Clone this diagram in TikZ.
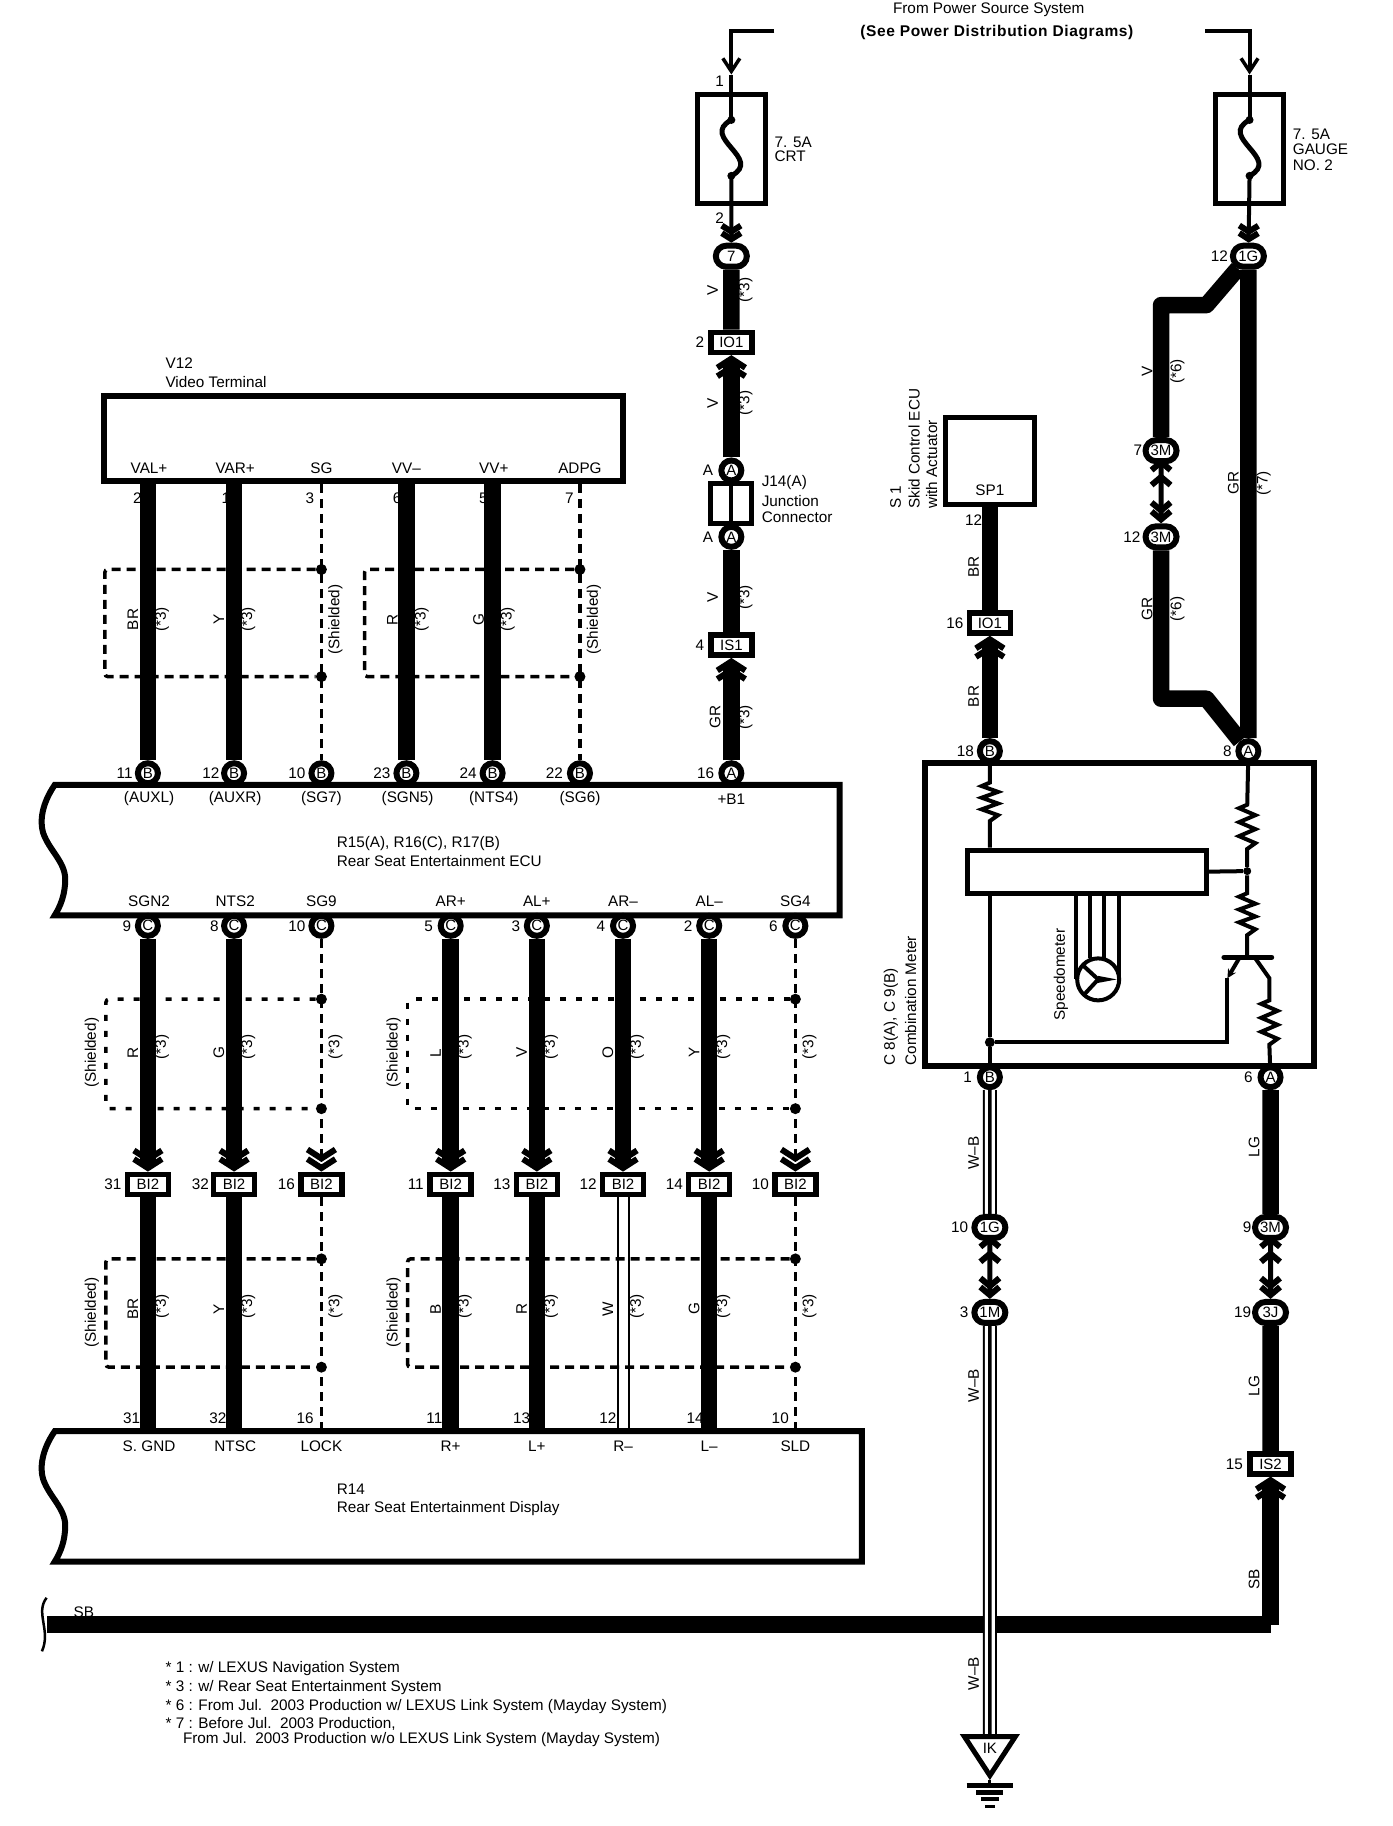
\documentclass[tikz,border=0pt]{standalone}
\usepackage{fontspec}
\setmainfont{Liberation Sans}
\usetikzlibrary{arrows.meta,backgrounds,calc,shapes.geometric,shapes.misc}
\tikzset{
  lab/.style={inner sep=0pt,font=\fontsize{15.3}{15}\selectfont},
  vlab/.style={lab,rotate=90},
  vwest/.style={lab,rotate=90,anchor=west},
  twest/.style={lab,anchor=west},
  boxline/.style={line width=6pt,line join=miter},
  cpin/.style={circle,draw,fill=white,line width=6pt,minimum size=20pt,inner sep=0pt,font=\fontsize{15}{15}\selectfont},
  coval/.style={rounded rectangle,draw,fill=white,line width=6pt,minimum width=31pt,minimum height=21pt,inner sep=0pt,font=\fontsize{15}{15}\selectfont},
  cbox/.style={rectangle,draw,fill=white,line width=5.5pt,minimum width=41pt,minimum height=20pt,inner sep=0pt,font=\fontsize{15}{15}\selectfont},
  unit/.style={rectangle,draw,line width=6pt,inner sep=0pt},
  jdot/.style={circle,fill=black,minimum size=11pt,inner sep=0pt},
  hwire/.style={line width=16.5pt},
  twire/.style={line width=4pt},
  dwire/.style={line width=3.5pt,dash pattern=on 9pt off 6pt},
  shieldA/.style={line width=3.5pt,dash pattern=on 9pt off 6pt,rounded corners=3pt},
  shieldB/.style={line width=3.5pt,dash pattern=on 6pt off 10pt,rounded corners=3pt},
  wwire/.style={double,double distance=9pt,line width=2pt},
  wbwire/.style={line width=14pt,postaction={draw,white,line width=10pt},postaction={draw,black,line width=3.5pt}},
  bigtip/.style={-{Straight Barb[length=9pt,width=28pt,line width=6pt,sep=-7pt]Straight Barb[length=9pt,width=28pt,line width=6pt]}},
  dashtip/.style={-{Straight Barb[length=9pt,width=28pt,line width=6pt,sep=-6pt]Straight Barb[length=9pt,width=28pt,line width=6pt]}},
  thintip/.style={-{Straight Barb[length=13pt,width=17pt,line width=3.5pt]}},
  fusetip/.style={-{Straight Barb[length=6pt,width=19pt,line width=6pt,sep=-5pt]Straight Barb[length=6pt,width=19pt,line width=6pt]}},
  dbltip/.style={{Straight Barb[length=8pt,width=19pt,line width=6pt,sep=-6pt]Straight Barb[length=8pt,width=19pt,line width=6pt]}-{Straight Barb[length=8pt,width=19pt,line width=6pt,sep=-6pt]Straight Barb[length=8pt,width=19pt,line width=6pt]}},
  fuseline/.style={line width=5pt},
  inner/.style={line width=4pt},
  gndtri/.style={isosceles triangle,isosceles triangle apex angle=64,isosceles triangle stretches,shape border rotate=270,draw,fill=white,line width=5pt,inner sep=0pt,minimum height=39pt,minimum width=51pt,anchor=lower side,font=\fontsize{15}{15}\selectfont}
}
\begin{document}
\begin{tikzpicture}[x=1.1645pt,y=-1.1645pt]
    \useasboundingbox (0,0) rectangle (1195.4,1568);

    % --------------------------------------------------------- %
    % ------------- power source
    % --------------------------------------------------------- %
    \node[lab] (srcA) at (849,8) {From Power Source System};
    \node[lab,font=\fontsize{15.5}{15}\selectfont\bfseries\addfontfeatures{LetterSpace=4}] (srcB) at (856,28) {(See Power Distribution Diagrams)};
    \coordinate (feedL) at (665,27);
    \coordinate (feedR) at (1035,27);
    \coordinate (feedLt) at (628,64);
    \coordinate (feedRt) at (1073,64);
    % --- fuses
    \node[unit,line width=5pt,minimum width=67.5pt,minimum height=109.5pt] (fuseL) at (628,128) {};
    \node[unit,line width=5pt,minimum width=67.5pt,minimum height=109.5pt] (fuseR) at (1073,128) {};
    \coordinate (fuseLt) at (628,103);
    \coordinate (fuseLb) at (628,151);
    \coordinate (fuseRt) at (1073,103);
    \coordinate (fuseRb) at (1073,151);
    \node[lab] (nL1) at (618,70) {1};
    \node[lab] (nL2) at (618,187) {2};
    \node[twest] (fuseLa) at (665,122) {7. 5A};
    \node[twest] (fuseLb2) at (665,134) {CRT};
    \node[twest] (fuseRa) at (1110,115) {7. 5A};
    \node[twest] (fuseRb2) at (1110,128) {GAUGE};
    \node[twest] (fuseRc) at (1110,142) {NO. 2};

    % --------------------------------------------------------- %
    % ------------- video terminal
    % --------------------------------------------------------- %
    \node[twest] (v12a) at (142,312) {V12};
    \node[twest] (v12b) at (142,328) {Video Terminal};
    \node[unit,minimum width=519pt,minimum height=85pt] (v12) at (312,376.5) {};
    \node[lab] (tvala) at (128,402) {VAL+};
    \node[lab] (tvara) at (202,402) {VAR+};
    \node[lab] (tsg) at (276,402) {SG};
    \node[lab] (tvvm) at (349,402) {VV–};
    \node[lab] (tvvp) at (424,402) {VV+};
    \node[lab] (tadpg) at (498,402) {ADPG};
    \node[lab] (p2) at (118,428) {2};
    \node[lab] (p1) at (194,428) {1};
    \node[lab] (p3) at (266,428) {3};
    \node[lab] (p6) at (341,428) {6};
    \node[lab] (p5) at (415,428) {5};
    \node[lab] (p7) at (489,428) {7};
    % --- shields
    \node[jdot] (sa1) at (276,489) {};
    \node[jdot] (sa2) at (276,581) {};
    \node[jdot] (sb1) at (498,489) {};
    \node[jdot] (sb2) at (498,581) {};
    \coordinate (saL) at (90,535);
    \coordinate (sbL) at (313,535);
    \node[vlab] (lbr) at (114,532) {BR};
    \node[vlab] (s1) at (139,532) {(*3)};
    \node[vlab] (ly) at (188,532) {Y};
    \node[vlab] (s2) at (213,532) {(*3)};
    \node[vlab] (ss1) at (288,532) {(Shielded)};
    \node[vlab] (lr) at (337,532) {R};
    \node[vlab] (s3) at (362,532) {(*3)};
    \node[vlab] (lg) at (411,532) {G};
    \node[vlab] (s4) at (436,532) {(*3)};
    \node[vlab] (ss2) at (510,532) {(Shielded)};

    % --------------------------------------------------------- %
    % ------------- rear seat entertainment ECU
    % --------------------------------------------------------- %
    \coordinate (ecuTL) at (47,674);
    \coordinate (ecuTR) at (721,674);
    \coordinate (ecuBR) at (721,786);
    \coordinate (ecuBL) at (47,786);
    \draw[boxline] (ecuTR) -- (ecuBR) -- (ecuBL) .. controls (52,778) and (56,768) .. (56,755) .. controls (56,740) and (42,730) .. (37,715) .. controls (34,705) and (36,690) .. (ecuTL) -- cycle;
    \node[cpin] (b1) at (127,664) {B};
    \node[cpin] (b2) at (201,664) {B};
    \node[cpin] (b3) at (276,664) {B};
    \node[cpin] (b4) at (349,664) {B};
    \node[cpin] (b5) at (423,664) {B};
    \node[cpin] (b6) at (498,664) {B};
    \node[cpin] (a16) at (628,664) {A};
    \node[lab] (n11) at (107,664) {11};
    \node[lab] (n12) at (181,664) {12};
    \node[lab] (n10) at (255,664) {10};
    \node[lab] (n23) at (328,664) {23};
    \node[lab] (n24) at (402,664) {24};
    \node[lab] (n22) at (476,664) {22};
    \node[lab] (n16) at (606,664) {16};
    \node[lab] (tauxl) at (128,686) {(AUXL)};
    \node[lab] (tauxr) at (202,686) {(AUXR)};
    \node[lab] (tsg7) at (276,686) {(SG7)};
    \node[lab] (tsgn5) at (350,686) {(SGN5)};
    \node[lab] (tnts4) at (424,686) {(NTS4)};
    \node[lab] (tsg6) at (498,686) {(SG6)};
    \node[lab] (tb1) at (628,686) {+B1};
    \node[twest] (ecuA) at (289,724) {R15(A), R16(C), R17(B)};
    \node[twest] (ecuB) at (289,739) {Rear Seat Entertainment ECU};
    \node[lab] (tsgn2) at (128,774) {SGN2};
    \node[lab] (tnts2) at (202,774) {NTS2};
    \node[lab] (tsg9) at (276,774) {SG9};
    \node[lab] (tarp) at (387,774) {AR+};
    \node[lab] (talp) at (461,774) {AL+};
    \node[lab] (tarm) at (535,774) {AR–};
    \node[lab] (talm) at (609,774) {AL–};
    \node[lab] (tsg4) at (683,774) {SG4};
    \node[cpin] (c1) at (127,795) {C};
    \node[cpin] (c2) at (201,795) {C};
    \node[cpin] (c3) at (276,795) {C};
    \node[cpin] (c4) at (387,795) {C};
    \node[cpin] (c5) at (461,795) {C};
    \node[cpin] (c6) at (535,795) {C};
    \node[cpin] (c7) at (609,795) {C};
    \node[cpin] (c8) at (683,795) {C};
    \node[lab] (m9) at (109,795) {9};
    \node[lab] (m8) at (184,795) {8};
    \node[lab] (m10) at (255,795) {10};
    \node[lab] (m5) at (368,795) {5};
    \node[lab] (m3) at (443,795) {3};
    \node[lab] (m4) at (516,795) {4};
    \node[lab] (m2) at (591,795) {2};
    \node[lab] (m6) at (664,795) {6};

    % --------------------------------------------------------- %
    % ------------- upper shielded run
    % --------------------------------------------------------- %
    \node[jdot] (sc1) at (276,858) {};
    \node[jdot] (sc2) at (276,952) {};
    \node[jdot] (sd1) at (683,858) {};
    \node[jdot] (sd2) at (683,952) {};
    \coordinate (scL) at (91,905);
    \coordinate (sdL) at (350,905);
    \node[vlab] (ss3) at (79,904) {(Shielded)};
    \node[vlab] (ss4) at (338,904) {(Shielded)};
    \node[vlab] (ur) at (114,904) {R};
    \node[vlab] (u1) at (139,899) {(*3)};
    \node[vlab] (ug) at (188,904) {G};
    \node[vlab] (u2) at (213,899) {(*3)};
    \node[vlab] (u3) at (288,899) {(*3)};
    \node[vlab] (ul) at (374,904) {L};
    \node[vlab] (u4) at (399,899) {(*3)};
    \node[vlab] (uv) at (448,904) {V};
    \node[vlab] (u5) at (473,899) {(*3)};
    \node[vlab] (uo) at (522,904) {O};
    \node[vlab] (u6) at (547,899) {(*3)};
    \node[vlab] (uy) at (596,904) {Y};
    \node[vlab] (u7) at (621,899) {(*3)};
    \node[vlab] (u8) at (695,899) {(*3)};

    % --------------------------------------------------------- %
    % ------------- BI2 connectors
    % --------------------------------------------------------- %
    \node[cbox] (bi1) at (127,1017) {BI2};
    \node[cbox] (bi2) at (201,1017) {BI2};
    \node[cbox] (bi3) at (276,1017) {BI2};
    \node[cbox] (bi4) at (387,1017) {BI2};
    \node[cbox] (bi5) at (461,1017) {BI2};
    \node[cbox] (bi6) at (535,1017) {BI2};
    \node[cbox] (bi7) at (609,1017) {BI2};
    \node[cbox] (bi8) at (683,1017) {BI2};
    \node[lab] (k31) at (97,1017) {31};
    \node[lab] (k32) at (172,1017) {32};
    \node[lab] (k16) at (246,1017) {16};
    \node[lab] (k11) at (357,1017) {11};
    \node[lab] (k13) at (431,1017) {13};
    \node[lab] (k12) at (505,1017) {12};
    \node[lab] (k14) at (579,1017) {14};
    \node[lab] (k10) at (653,1017) {10};

    % --------------------------------------------------------- %
    % ------------- lower shielded run
    % --------------------------------------------------------- %
    \node[jdot] (se1) at (276,1081) {};
    \node[jdot] (se2) at (276,1174) {};
    \node[jdot] (sf1) at (683,1081) {};
    \node[jdot] (sf2) at (683,1174) {};
    \coordinate (seL) at (91,1127);
    \coordinate (sfL) at (350,1127);
    \node[vlab] (ss5) at (79,1127) {(Shielded)};
    \node[vlab] (ss6) at (338,1127) {(Shielded)};
    \node[vlab] (dbr) at (114,1124) {BR};
    \node[vlab] (d1) at (139,1122) {(*3)};
    \node[vlab] (dy) at (188,1124) {Y};
    \node[vlab] (d2) at (213,1122) {(*3)};
    \node[vlab] (d3) at (288,1122) {(*3)};
    \node[vlab] (db) at (374,1124) {B};
    \node[vlab] (d4) at (399,1122) {(*3)};
    \node[vlab] (dr) at (448,1124) {R};
    \node[vlab] (d5) at (473,1122) {(*3)};
    \node[vlab] (dw) at (522,1124) {W};
    \node[vlab] (d6) at (547,1122) {(*3)};
    \node[vlab] (dg) at (596,1124) {G};
    \node[vlab] (d7) at (621,1122) {(*3)};
    \node[vlab] (d8) at (695,1122) {(*3)};

    % --------------------------------------------------------- %
    % ------------- rear seat entertainment display
    % --------------------------------------------------------- %
    \coordinate (dspTL) at (47,1229);
    \coordinate (dspTR) at (740,1229);
    \coordinate (dspBR) at (740,1341);
    \coordinate (dspBL) at (47,1341);
    \draw[boxline] (dspTR) -- (dspBR) -- (dspBL) .. controls (52,1333) and (56,1323) .. (56,1310) .. controls (56,1295) and (42,1285) .. (37,1270) .. controls (34,1260) and (36,1245) .. (dspTL) -- cycle;
    \node[lab] (q31) at (113,1218) {31};
    \node[lab] (q32) at (187,1218) {32};
    \node[lab] (q16) at (262,1218) {16};
    \node[lab] (q11) at (373,1218) {11};
    \node[lab] (q13) at (448,1218) {13};
    \node[lab] (q12) at (522,1218) {12};
    \node[lab] (q14) at (597,1218) {14};
    \node[lab] (q10) at (670,1218) {10};
    \node[lab] (tsgnd) at (128,1242) {S. GND};
    \node[lab] (tntsc) at (202,1242) {NTSC};
    \node[lab] (tlock) at (276,1242) {LOCK};
    \node[lab] (trp) at (387,1242) {R+};
    \node[lab] (tlp) at (461,1242) {L+};
    \node[lab] (trm) at (535,1242) {R–};
    \node[lab] (tlm) at (609,1242) {L–};
    \node[lab] (tsld) at (683,1242) {SLD};
    \node[twest] (dspA) at (289,1279) {R14};
    \node[twest] (dspB) at (289,1295) {Rear Seat Entertainment Display};

    % --------------------------------------------------------- %
    % ------------- +B1 feed column
    % --------------------------------------------------------- %
    \node[coval] (j7) at (628,220) {7};
    \node[vlab] (cv1) at (612,249) {V};
    \node[vlab] (cs1) at (640,249) {(*3)};
    \node[cbox] (io1a) at (628,294) {IO1};
    \node[lab] (io1an) at (601,294) {2};
    \node[vlab] (cv2) at (612,346) {V};
    \node[vlab] (cs2) at (640,346) {(*3)};
    \node[cpin] (ja) at (628,404) {A};
    \node[lab] (jan) at (608,404) {A};
    \node[rectangle,draw,line width=5pt,minimum width=41pt,minimum height=40pt,inner sep=0pt] (j14) at (628,432.5) {};
    \node[cpin] (jb) at (628,461) {A};
    \node[lab] (jbn) at (608,461) {A};
    \node[twest] (j14a) at (654,414) {J14(A)};
    \node[twest] (j14b) at (654,430) {Junction};
    \node[twest] (j14c) at (654,444) {Connector};
    \node[vlab] (cv3) at (612,513) {V};
    \node[vlab] (cs3) at (640,513) {(*3)};
    \node[cbox] (is1) at (628,554) {IS1};
    \node[lab] (is1n) at (601,554) {4};
    \node[vlab] (cgr) at (614,616) {GR};
    \node[vlab] (cs4) at (640,616) {(*3)};

    % --------------------------------------------------------- %
    % ------------- skid control ECU
    % --------------------------------------------------------- %
    \node[unit,line width=5pt,minimum width=88.5pt,minimum height=87pt] (s1box) at (850,395.5) {};
    \node[lab] (sp1) at (850,421) {SP1};
    \node[vwest] (s1a) at (769,437) {S 1};
    \node[vwest] (s1b) at (785,437) {Skid Control ECU};
    \node[vwest] (s1c) at (800,437) {with Actuator};
    \node[lab] (s12) at (836,447) {12};
    \node[vlab] (sbr1) at (836,487) {BR};
    \node[cbox] (io1b) at (850,535) {IO1};
    \node[lab] (io1bn) at (820,535) {16};
    \node[vlab] (sbr2) at (836,598) {BR};

    % --------------------------------------------------------- %
    % ------------- gauge feed
    % --------------------------------------------------------- %
    \node[coval] (g1) at (1072,220) {1G};
    \node[lab] (g1n) at (1047,220) {12};
    \coordinate (brA) at (1036,262);
    \coordinate (brB) at (997,262);
    \coordinate (brC) at (997,600);
    \coordinate (brD) at (1036,600);
    \node[coval] (m3a) at (997,387) {3M};
    \node[lab] (m3an) at (977,387) {7};
    \node[coval] (m3b) at (997,461) {3M};
    \node[lab] (m3bn) at (972,461) {12};
    \node[vlab] (gv) at (985,319) {V};
    \node[vlab] (gs1) at (1011,319) {(*6)};
    \node[vlab] (ggr1) at (985,523) {GR};
    \node[vlab] (gs2) at (1011,523) {(*6)};
    \node[vlab] (ggr2) at (1059,415) {GR};
    \node[vlab] (gs3) at (1085,415) {(*7)};

    % --------------------------------------------------------- %
    % ------------- combination meter
    % --------------------------------------------------------- %
    \node[unit,minimum width=389pt,minimum height=303pt] (meter) at (961,785) {};
    \node[vwest] (mtA) at (765,915) {C 8(A), C 9(B)};
    \node[vwest] (mtB) at (782,915) {Combination Meter};
    \node[cpin] (mB) at (850,645) {B};
    \node[lab] (mBn) at (829,645) {18};
    \node[cpin] (mA) at (1072,645) {A};
    \node[lab] (mAn) at (1054,645) {8};
    \node[cpin] (mB1) at (850,925) {B};
    \node[lab] (mB1n) at (831,925) {1};
    \node[cpin] (mA6) at (1091,925) {A};
    \node[lab] (mA6n) at (1072,925) {6};
    \node[unit,line width=5pt,minimum width=238.5pt,minimum height=43pt] (ind) at (933.5,748.5) {};
    \node[circle,draw,line width=4pt,minimum size=42pt,inner sep=0pt] (spm) at (943,841) {};
    \node[vlab] (spmt) at (911,837) {Speedometer};
    \node[jdot,minimum size=10pt] (jL) at (850,895) {};
    \node[jdot,minimum size=8pt] (jR) at (1071,748) {};
    \coordinate (ra1) at (850,672);
    \coordinate (ra2) at (850,705);
    \coordinate (rb1) at (1071,691);
    \coordinate (rb2) at (1071,729);
    \coordinate (rc1) at (1071,767);
    \coordinate (rc2) at (1071,803);
    \coordinate (rd1) at (1090,859);
    \coordinate (rd2) at (1090,897);
    \coordinate (qbl) at (1051,822);
    \coordinate (qbr) at (1092,822);
    \coordinate (qe) at (1054,840);
    \coordinate (qc) at (1090,840);
    \coordinate (qb) at (1071,822);
    \draw[inner] (mB) -- (ra1) -- ++(-7,3) -- ++(14,5) -- ++(-14,5) -- ++(14,5) -- ++(-14,5) -- ++(14,5) -- (ra2) -- (ra2 |- ind.north);
    \draw[inner] (ra2 |- ind.south) -- (jL) -- (mB1);
    \draw[inner] (mA) -- (rb1) -- ++(-7,3) -- ++(14,6) -- ++(-14,6) -- ++(14,6) -- ++(-14,6) -- ++(14,6) -- (rb2) -- (jR) -- (rc1) -- ++(-7,3) -- ++(14,6) -- ++(-14,5) -- ++(14,6) -- ++(-14,5) -- ++(14,6) -- (rc2) -- (qb);
    \draw[inner] (ind.east) -- (jR);
    \draw[line width=5pt,line cap=round] (qbl) -- (qbr);
    \draw[inner,-{Stealth[length=9pt,width=9pt]}] (1064,823) -- (qe);
    \draw[inner] (qe) -- (qe |- jL) -- (jL);
    \draw[inner] (1078,823) -- (qc) -- (rd1) -- ++(-7,3) -- ++(14,6) -- ++(-14,6) -- ++(14,6) -- ++(-14,6) -- ++(14,6) -- (rd2) -- (mA6);
    \draw[inner] (924,767) -- (924,841);
    \draw[inner] (961,767) -- (961,841);
    \draw[inner] (936,767) -- (936,823);
    \draw[inner] (948,767) -- (948,823);
    \draw[inner] (spm.center) -- ++(-13,-12);
    \draw[inner] (spm.center) -- ++(-12,13);
    \fill (943,838) -- (959,841) -- (943,844) -- cycle;

    % --------------------------------------------------------- %
    % ------------- ground side
    % --------------------------------------------------------- %
    \node[coval] (g1b) at (850,1054) {1G};
    \node[lab] (g1bn) at (824,1054) {10};
    \node[coval] (m1) at (850,1127) {1M};
    \node[lab] (m1n) at (828,1127) {3};
    \node[vlab] (wb1) at (836,990) {W–B};
    \node[vlab] (wb2) at (836,1190) {W–B};
    \node[vlab] (wb3) at (836,1437) {W–B};
    \node[coval] (m3c) at (1091,1054) {3M};
    \node[lab] (m3cn) at (1071,1054) {9};
    \node[coval] (j3) at (1091,1127) {3J};
    \node[lab] (j3n) at (1067,1127) {19};
    \node[vlab] (lg1) at (1077,985) {LG};
    \node[vlab] (lg2) at (1077,1190) {LG};
    \node[cbox] (is2) at (1091,1257) {IS2};
    \node[lab] (is2n) at (1060,1257) {15};
    \node[vlab] (sb1l) at (1077,1356) {SB};
    \node[lab] (sb2l) at (72,1384) {SB};
    \coordinate (sbC) at (1091,1395);
    \coordinate (sbE) at (40,1395);
    \node[gndtri] (ik) at (850,1489) {IK};
    \coordinate (gnd) at (850,1533);
    \draw[line width=3pt] (ik.apex) -- (gnd);
    \draw[line width=4.5pt] (830,1533) -- (870,1533);
    \draw[line width=4.5pt] (838.5,1539) -- (861.5,1539);
    \draw[line width=4.5pt] (842.5,1545) -- (857.5,1545);
    \draw[line width=3pt] (846,1551) -- (854,1551);
    \draw[line width=2.5pt] (40,1372) .. controls (30,1385) and (44,1400) .. (36,1418);

    % --------------------------------------------------------- %
    % ------------- footnotes
    % --------------------------------------------------------- %
    \node[twest] (note1) at (142,1433) {* 1 : w/ LEXUS Navigation System};
    \node[twest] (note3) at (142,1449) {* 3 : w/ Rear Seat Entertainment System};
    \node[twest] (note6) at (142,1465) {* 6 : From Jul.\ \ 2003 Production w/ LEXUS Link System (Mayday System)};
    \node[twest] (note7) at (142,1480) {* 7 : Before Jul.\ \ 2003 Production,};
    \node[twest] (note7b) at (157,1494) {From Jul.\ \ 2003 Production w/o LEXUS Link System (Mayday System)};

    % --------------------------------------------------------- %
    % ------------- wiring, behind the nodes
    % --------------------------------------------------------- %
    \begin{scope}[on background layer]
      % --- feeds and fuses
      \draw[line width=4pt,thintip] (feedL) -| (feedLt);
      \draw[line width=4pt,thintip] (feedR) -| (feedRt);
      \draw[line width=4pt] (feedLt) -- (fuseLt);
      \draw[line width=4pt] (feedRt) -- (fuseRt);
      \draw[fuseline] (fuseLt) .. controls (600,118) and (656,136) .. (fuseLb);
      \draw[fuseline] (fuseRt) .. controls (1045,118) and (1101,136) .. (fuseRb);
      \fill (fuseLt) circle (4pt);
      \fill (fuseLb) circle (4pt);
      \fill (fuseRt) circle (4pt);
      \fill (fuseRb) circle (4pt);
      \draw[line width=4pt,fusetip] (fuseLb) -- (j7);
      \draw[line width=4pt,fusetip] (fuseRb) -- (g1);
      % --- video terminal to ECU
      \draw[hwire] (b1 |- v12.south) -- (b1);
      \draw[hwire] (b2 |- v12.south) -- (b2);
      \draw[dwire] (b3 |- v12.south) -- (b3);
      \draw[hwire] (b4 |- v12.south) -- (b4);
      \draw[hwire] (b5 |- v12.south) -- (b5);
      \draw[dwire] (b6 |- v12.south) -- (b6);
      \draw[shieldA] (sa1) -| (saL) |- (sa2);
      \draw[shieldA] (sb1) -| (sbL) |- (sb2);
      % --- ECU to BI2
      \draw[hwire,bigtip] (c1) -- (bi1);
      \draw[hwire,bigtip] (c2) -- (bi2);
      \draw[dwire,dashtip] (c3) -- (bi3);
      \draw[hwire,bigtip] (c4) -- (bi4);
      \draw[hwire,bigtip] (c5) -- (bi5);
      \draw[hwire,bigtip] (c6) -- (bi6);
      \draw[hwire,bigtip] (c7) -- (bi7);
      \draw[dwire,dashtip] (c8) -- (bi8);
      \draw[shieldB] (sc1) -| (scL) |- (sc2);
      \draw[shieldB] (sd1) -| (sdL) |- (sd2);
      % --- BI2 to display
      \draw[hwire] (bi1) -- (bi1 |- dspTL);
      \draw[hwire] (bi2) -- (bi2 |- dspTL);
      \draw[dwire] (bi3) -- (bi3 |- dspTL);
      \draw[hwire] (bi4) -- (bi4 |- dspTL);
      \draw[hwire] (bi5) -- (bi5 |- dspTL);
      \draw[wwire] (bi6) -- (bi6 |- dspTL);
      \draw[hwire] (bi7) -- (bi7 |- dspTL);
      \draw[dwire] (bi8) -- (bi8 |- dspTL);
      \draw[shieldA] (se1) -| (seL) |- (se2);
      \draw[shieldA] (sf1) -| (sfL) |- (sf2);
      % --- +B1 column
      \draw[hwire] (j7) -- (io1a);
      \draw[hwire,bigtip] (ja) -- (io1a);
      \draw[line width=4pt] (j14.north) -- (j14.south);
      \draw[hwire] (jb) -- (is1);
      \draw[hwire,bigtip] (a16) -- (is1);
      % --- skid control
      \draw[hwire] (s1box.south) -- (io1b);
      \draw[hwire,bigtip] (mB) -- (io1b);
      % --- gauge branches
      \draw[hwire] (g1) -- (mA);
      \draw[hwire,line join=round] (g1) -- (brA) -- (brB) -- (m3a);
      \draw[line width=5pt,dbltip] (m3a) -- (m3b);
      \draw[hwire,line join=round] (m3b) -- (brC) -- (brD) -- (mA);
      % --- ground side
      \draw[wbwire] (mB1) -- (g1b);
      \draw[line width=5pt,dbltip] (g1b) -- (m1);
      \draw[hwire] (mA6) -- (m3c);
      \draw[line width=5pt,dbltip] (m3c) -- (j3);
      \draw[hwire] (j3) -- (is2);
      \draw[hwire,bigtip] (sbC) -- (is2);
      \draw[hwire,line join=round] (is2 |- sbC) -- (sbC) -- (sbE);
      \draw[wbwire] (m1) -- (ik.lower side);
    \end{scope}
  \end{tikzpicture}
\end{document}
